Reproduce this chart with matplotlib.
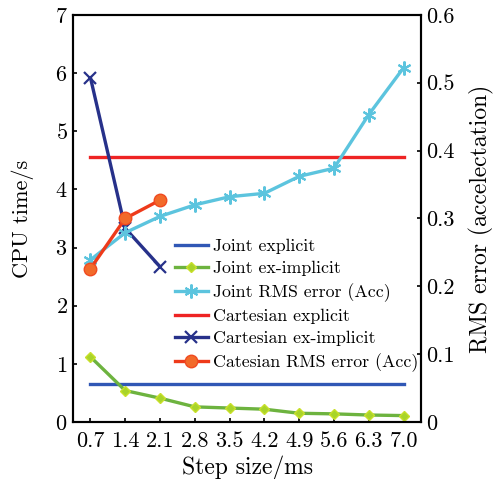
import matplotlib
matplotlib.use("Agg")
import matplotlib.pyplot as plt

plt.rcParams['font.family'] = ['cmr10', 'DejaVu Serif']
plt.rcParams['axes.formatter.use_mathtext'] = True

step_labels = ['0.7', '1.4', '2.1', '2.8', '3.5', '4.2', '4.9', '5.6', '6.3', '7.0']
idx = list(range(1, 11))

# CPU time (s), left axis
joint_explicit = [0.65] * 10
joint_ex_implicit = [1.12, 0.54, 0.41, 0.26, 0.24, 0.22, 0.15, 0.14, 0.12, 0.11]
cart_explicit = [4.55] * 10
cart_ex_implicit = [5.92, 3.33, 2.67]

# RMS error (acceleration), right axis
joint_rms = [0.239, 0.279, 0.303, 0.320, 0.332, 0.337, 0.362, 0.374, 0.453, 0.522]
cart_rms = [0.226, 0.300, 0.327]


def main():
    fig = plt.figure(figsize=(4.97, 4.79), dpi=100)
    ax = fig.add_axes([0.147, 0.119, 0.700, 0.850])
    ax2 = ax.twinx()

    h1, = ax.plot(idx, joint_explicit, color='#3057B5', lw=2.4, label='Joint explicit')
    h2, = ax.plot(idx, joint_ex_implicit, color='#6DB33F', lw=2.4, marker='D', ms=5,
                  mfc='#A8D42A', mec='#C8E02A', label='Joint ex-implicit')
    h4, = ax.plot(idx, cart_explicit, color='#EE2424', lw=2.4, label='Cartesian explicit')
    h5, = ax.plot(idx[:3], cart_ex_implicit, color='#27318A', lw=2.4, marker='x', ms=8,
                  mew=1.6, label='Cartesian ex-implicit')

    h3, = ax2.plot(idx, joint_rms, color='#5CC4DE', lw=2.4, marker=(6, 2, 0), ms=10,
                   mew=1.5, label='Joint RMS error (Acc)')
    h6, = ax2.plot(idx[:3], cart_rms, color='#EE3A1A', lw=2.4, marker='o', ms=9,
                   mfc='#F26A2A', mec='#F04A20', label='Catesian RMS error (Acc)')

    ax.set_xlim(0.5, 10.5)
    ax.set_ylim(0, 7)
    ax2.set_ylim(0, 0.6)
    ax.set_xticks(idx)
    ax.set_xticklabels(step_labels)
    ax.set_yticks(range(0, 8))
    ax2.set_yticks([0, 0.1, 0.2, 0.3, 0.4, 0.5, 0.6])
    ax2.set_yticklabels(['0', '0.1', '0.2', '0.3', '0.4', '0.5', '0.6'])

    for a in (ax, ax2):
        a.tick_params(direction='in', length=3, width=1.2, labelsize=16, pad=4)
        for s in a.spines.values():
            s.set_linewidth(1.5)
    ax.tick_params(axis='x', pad=7)

    ax.set_xlabel('Step size/ms', fontsize=17, labelpad=3)
    ax.set_ylabel('CPU time/s', fontsize=16, labelpad=15)
    ax2.set_ylabel('RMS error (accelectation)', fontsize=17, labelpad=10)

    ax2.legend([h1, h2, h3, h4, h5, h6],
               [h.get_label() for h in [h1, h2, h3, h4, h5, h6]],
               loc='upper left', bbox_to_anchor=(0.293, 0.45), frameon=False,
               fontsize=12.8, handlelength=1.85, handletextpad=0.3,
               labelspacing=0.38, borderpad=0, borderaxespad=0)

    fig.savefig('out.png', dpi=100)


if __name__ == "__main__":
    main()
